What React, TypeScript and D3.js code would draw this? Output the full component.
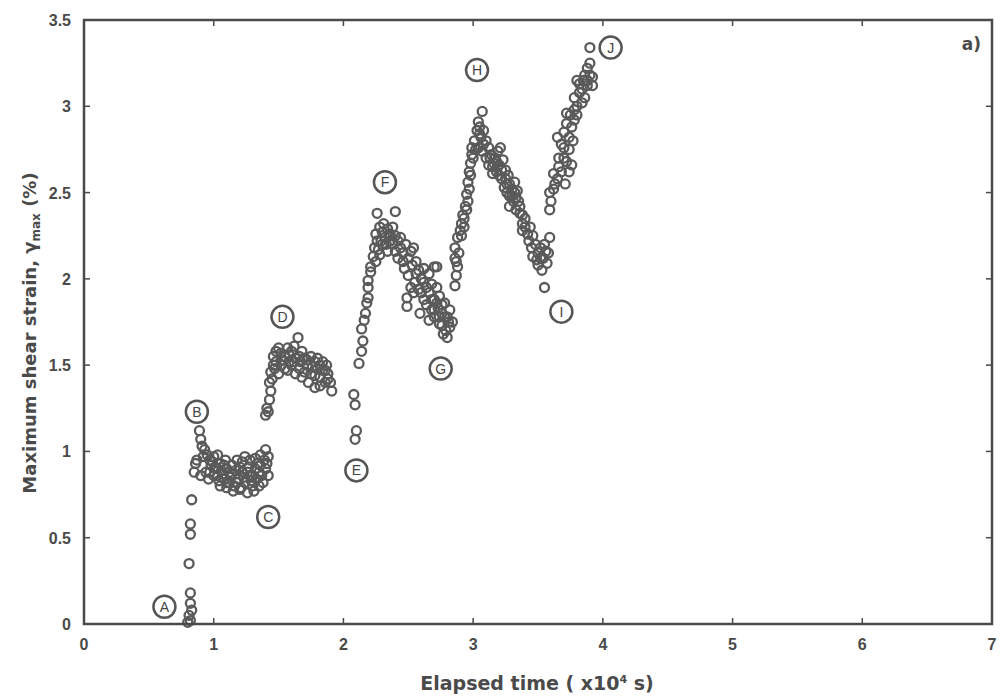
import React from 'react';
import * as d3 from 'd3';

type Pt = [number, number];

// elapsed time (x10^4 s), maximum shear strain (%)
const riseAB: Pt[] = [
  [0.80, 0.01], [0.82, 0.02], [0.81, 0.05], [0.83, 0.08], [0.82, 0.12],
  [0.82, 0.18], [0.81, 0.35], [0.82, 0.52], [0.82, 0.58], [0.83, 0.72],
];

const clusterBC: Pt[] = [
  [0.85, 0.88], [0.86, 0.93], [0.87, 0.95], [0.89, 1.12], [0.90, 1.07], [0.91, 1.03],
  [0.93, 1.01], [0.92, 0.97], [0.95, 0.98], [0.97, 0.95], [1.00, 0.97], [1.03, 0.98],
  [0.98, 0.92], [1.02, 0.90], [1.05, 0.93], [1.08, 0.92], [1.10, 0.90], [1.14, 0.92],
  [1.18, 0.95], [1.22, 0.94], [1.24, 0.97], [1.28, 0.95], [1.32, 0.96], [1.36, 0.98],
  [1.40, 1.01], [1.42, 0.97], [0.90, 0.86], [0.94, 0.88], [0.96, 0.84], [1.00, 0.86],
  [1.04, 0.83], [1.07, 0.87], [1.10, 0.82], [1.13, 0.85], [1.16, 0.80], [1.19, 0.84],
  [1.21, 0.79], [1.24, 0.82], [1.26, 0.76], [1.28, 0.86], [1.30, 0.80], [1.33, 0.84],
  [1.35, 0.88], [1.38, 0.82], [1.40, 0.90], [1.42, 0.86], [1.39, 0.95], [1.36, 0.92],
  [1.32, 0.90], [1.27, 0.91], [1.22, 0.88], [1.17, 0.89], [1.12, 0.88], [1.06, 0.89],
  [1.01, 0.91], [1.15, 0.77], [1.20, 0.78], [1.10, 0.79], [1.05, 0.80], [1.35, 0.80],
  [1.31, 0.77], [0.97, 0.88], [1.03, 0.86], [1.08, 0.84], [1.12, 0.82], [1.18, 0.82],
  [1.23, 0.85], [1.26, 0.88], [1.30, 0.86], [1.34, 0.93], [1.37, 0.86], [1.14, 0.87],
  [1.20, 0.91], [1.09, 0.95], [0.99, 0.94], [1.29, 0.83], [1.41, 0.93],
];

const clusterCD: Pt[] = [
  [1.40, 1.21], [1.41, 1.25], [1.42, 1.23], [1.43, 1.30], [1.44, 1.35], [1.43, 1.40],
  [1.45, 1.42], [1.44, 1.46], [1.46, 1.50], [1.47, 1.48], [1.46, 1.55], [1.48, 1.58],
  [1.50, 1.60], [1.52, 1.57], [1.55, 1.55], [1.57, 1.60], [1.60, 1.58], [1.62, 1.61],
  [1.65, 1.66], [1.58, 1.52], [1.52, 1.50], [1.50, 1.45], [1.55, 1.48], [1.60, 1.50],
  [1.63, 1.54], [1.66, 1.55], [1.68, 1.58], [1.70, 1.54], [1.72, 1.50], [1.75, 1.55],
  [1.78, 1.52], [1.80, 1.54], [1.82, 1.50], [1.84, 1.52], [1.86, 1.47], [1.88, 1.45],
  [1.90, 1.40], [1.91, 1.35], [1.86, 1.40], [1.82, 1.43], [1.78, 1.37], [1.75, 1.45],
  [1.70, 1.46], [1.66, 1.48], [1.63, 1.45], [1.80, 1.48], [1.87, 1.50], [1.73, 1.40],
  [1.68, 1.43], [1.48, 1.52], [1.53, 1.53], [1.58, 1.56], [1.62, 1.52], [1.67, 1.52],
  [1.72, 1.53], [1.76, 1.49], [1.84, 1.47], [1.57, 1.47], [1.78, 1.44], [1.82, 1.38],
  [1.88, 1.42],
];

const dropE: Pt[] = [
  [2.08, 1.33], [2.09, 1.27], [2.10, 1.12], [2.09, 1.07],
];

const riseEF: Pt[] = [
  [2.12, 1.51], [2.14, 1.58], [2.15, 1.64], [2.14, 1.71], [2.16, 1.76], [2.17, 1.80],
  [2.18, 1.86], [2.19, 1.89], [2.19, 1.95], [2.19, 1.99], [2.21, 2.04], [2.21, 2.07],
  [2.23, 2.13], [2.25, 2.10], [2.27, 2.17], [2.26, 2.22], [2.25, 2.26], [2.26, 2.38],
  [2.28, 2.30], [2.30, 2.27], [2.32, 2.24], [2.30, 2.20], [2.34, 2.29], [2.36, 2.26],
  [2.38, 2.30], [2.40, 2.39], [2.40, 2.25], [2.38, 2.20], [2.42, 2.22], [2.44, 2.18],
  [2.34, 2.16], [2.28, 2.14], [2.24, 2.18], [2.29, 2.22], [2.33, 2.20], [2.36, 2.22],
  [2.40, 2.16], [2.42, 2.12], [2.31, 2.32], [2.35, 2.25],
];

const fallFG: Pt[] = [
  [2.46, 2.15], [2.48, 2.20], [2.50, 2.12], [2.52, 2.16], [2.54, 2.18], [2.47, 2.06],
  [2.50, 2.02], [2.53, 2.08], [2.56, 2.10], [2.58, 2.05], [2.60, 2.00], [2.55, 1.98],
  [2.52, 1.95], [2.49, 1.89], [2.49, 1.84], [2.54, 1.92], [2.58, 1.94], [2.62, 1.98],
  [2.66, 2.03], [2.70, 2.07], [2.72, 2.07], [2.59, 1.80], [2.62, 1.88], [2.64, 1.85],
  [2.66, 1.92], [2.68, 1.82], [2.70, 1.88], [2.72, 1.95], [2.74, 1.90], [2.66, 1.76],
  [2.70, 1.78], [2.73, 1.83], [2.76, 1.80], [2.78, 1.86], [2.80, 1.78], [2.82, 1.82],
  [2.76, 1.73], [2.79, 1.70], [2.82, 1.72], [2.84, 1.75], [2.80, 1.66], [2.77, 1.68],
  [2.74, 1.74], [2.56, 2.03], [2.60, 1.92], [2.64, 1.95], [2.68, 1.97], [2.68, 1.88],
  [2.72, 1.86], [2.76, 1.85], [2.78, 1.78], [2.81, 1.75], [2.74, 1.78], [2.70, 1.82],
  [2.62, 2.06], [2.46, 2.10], [2.44, 2.24],
];

const riseGH: Pt[] = [
  [2.86, 1.96], [2.87, 2.02], [2.88, 2.07], [2.86, 2.12], [2.86, 2.18], [2.88, 2.24],
  [2.90, 2.28], [2.91, 2.32], [2.92, 2.37], [2.94, 2.42], [2.95, 2.49], [2.96, 2.56],
  [2.97, 2.62], [2.98, 2.67], [2.99, 2.72], [2.99, 2.76], [3.01, 2.80], [3.03, 2.86],
  [3.04, 2.91], [3.07, 2.97], [2.89, 2.15], [2.93, 2.35], [2.96, 2.45], [2.87, 2.10],
  [2.91, 2.25], [2.93, 2.30], [2.95, 2.40], [2.97, 2.52], [2.98, 2.60], [3.00, 2.70],
  [3.02, 2.75], [3.05, 2.84],
];

const fallHI: Pt[] = [
  [3.05, 2.88], [3.06, 2.82], [3.08, 2.86], [3.10, 2.80], [3.04, 2.76], [3.07, 2.74],
  [3.10, 2.70], [3.12, 2.76], [3.14, 2.72], [3.15, 2.65], [3.17, 2.70], [3.19, 2.74],
  [3.21, 2.76], [3.23, 2.69], [3.15, 2.61], [3.18, 2.62], [3.20, 2.60], [3.22, 2.63],
  [3.25, 2.58], [3.27, 2.60], [3.24, 2.53], [3.28, 2.55], [3.30, 2.52], [3.32, 2.56],
  [3.34, 2.51], [3.28, 2.48], [3.31, 2.45], [3.28, 2.42], [3.33, 2.40], [3.35, 2.45],
  [3.36, 2.42], [3.38, 2.37], [3.38, 2.32], [3.40, 2.35], [3.38, 2.28], [3.42, 2.26],
  [3.44, 2.30], [3.46, 2.25], [3.48, 2.20], [3.45, 2.18], [3.46, 2.13], [3.50, 2.15],
  [3.52, 2.18], [3.54, 2.12], [3.57, 2.09], [3.55, 2.20], [3.59, 2.24], [3.58, 2.15],
  [3.50, 2.08], [3.53, 2.05], [3.55, 1.95], [3.12, 2.66], [3.20, 2.66], [3.26, 2.50],
  [3.08, 2.78], [3.13, 2.70], [3.16, 2.67], [3.22, 2.58], [3.26, 2.55], [3.30, 2.48],
  [3.33, 2.47], [3.36, 2.38], [3.40, 2.30], [3.43, 2.22], [3.49, 2.11], [3.52, 2.12],
  [3.56, 2.16], [3.18, 2.68], [3.25, 2.63], [3.32, 2.50],
];

const riseIJ: Pt[] = [
  [3.59, 2.40], [3.59, 2.50], [3.60, 2.45], [3.62, 2.61], [3.63, 2.55], [3.65, 2.58],
  [3.66, 2.65], [3.68, 2.62], [3.70, 2.70], [3.71, 2.55], [3.72, 2.68], [3.74, 2.62],
  [3.76, 2.66], [3.74, 2.75], [3.65, 2.82], [3.68, 2.78], [3.70, 2.85], [3.72, 2.90],
  [3.74, 2.82], [3.76, 2.88], [3.72, 2.96], [3.75, 2.95], [3.78, 2.98], [3.78, 3.05],
  [3.80, 3.00], [3.82, 3.08], [3.80, 3.15], [3.84, 3.10], [3.85, 3.15], [3.86, 3.05],
  [3.88, 3.22], [3.90, 3.18], [3.92, 3.17], [3.92, 3.12], [3.90, 3.25], [3.88, 3.12],
  [3.90, 3.34], [3.82, 3.13], [3.86, 3.18], [3.88, 3.15], [3.84, 3.02], [3.80, 2.95],
  [3.78, 2.92], [3.77, 2.80], [3.70, 2.76], [3.66, 2.70], [3.62, 2.52],
];

// stage markers A..J (letter, time, strain)
const stageLetters = ['A', 'B', 'C', 'D', 'E', 'F', 'G', 'H', 'I', 'J'];
const stageTimes = [0.62, 0.87, 1.42, 1.53, 2.10, 2.32, 2.75, 3.03, 3.68, 4.06];
const stageStrains = [0.10, 1.23, 0.62, 1.78, 0.89, 2.56, 1.48, 3.21, 1.81, 3.34];

const xTicks = [0, 1, 2, 3, 4, 5, 6, 7];
const yTicks = [0, 0.5, 1, 1.5, 2, 2.5, 3, 3.5];

const W = 1002;
const H = 699;
const margin = { top: 20, right: 10, bottom: 75, left: 84 };
const ink = '#4a4a4a';

export default function App() {
  const x = d3.scaleLinear().domain([0, 7]).range([margin.left, W - margin.right]);
  const y = d3.scaleLinear().domain([0, 3.5]).range([H - margin.bottom, margin.top]);

  const points = [
    ...riseAB, ...clusterBC, ...clusterCD, ...dropE, ...riseEF,
    ...fallFG, ...riseGH, ...fallHI, ...riseIJ,
  ];

  const x0 = x(0), x1 = x(7), y0 = y(0), y1 = y(3.5);
  const tick = 6;

  return (
    <div style={{ position: 'absolute', left: 0, top: 0 }}>
      <svg width={W} height={H} style={{ display: 'block', background: '#fff' }}>
        {/* data */}
        <g fill="none" stroke="#5a5a5a" strokeWidth={2.3}>
          {points.map((d, i) => (
            <circle key={i} cx={x(d[0])} cy={y(d[1])} r={4.5} />
          ))}
        </g>

        {/* stage labels */}
        <g>
          {stageLetters.map((s, i) => (
            <g key={s} transform={`translate(${x(stageTimes[i])},${y(stageStrains[i])})`}>
              <circle r={11} fill="#fff" stroke="#555" strokeWidth={2.5} />
              <text
                y={5}
                textAnchor="middle"
                fontFamily="Liberation Sans, Arial, sans-serif"
                fontSize={14}
                fill="#444"
              >
                {s}
              </text>
            </g>
          ))}
        </g>

        {/* frame */}
        <rect x={x0} y={y1} width={x1 - x0} height={y0 - y1} fill="none" stroke={ink} strokeWidth={2.5} />

        {/* ticks */}
        <g stroke={ink} strokeWidth={1.5}>
          {xTicks.slice(1, -1).map(t => (
            <g key={t}>
              <line x1={x(t)} x2={x(t)} y1={y0} y2={y0 - tick} />
              <line x1={x(t)} x2={x(t)} y1={y1} y2={y1 + tick} />
            </g>
          ))}
          {yTicks.slice(1, -1).map(t => (
            <g key={t}>
              <line x1={x0} x2={x0 + tick} y1={y(t)} y2={y(t)} />
              <line x1={x1} x2={x1 - tick} y1={y(t)} y2={y(t)} />
            </g>
          ))}
        </g>

        {/* tick labels */}
        <g fontFamily="Liberation Sans, Arial, sans-serif" fontWeight="bold" fontSize={16} fill={ink}>
          {xTicks.map(t => (
            <text key={t} x={x(t)} y={y0 + 26} textAnchor="middle">{t}</text>
          ))}
          {yTicks.map(t => (
            <text key={t} x={x0 - 13} y={y(t) + 6} textAnchor="end">{t}</text>
          ))}
        </g>

        {/* axis titles */}
        <g fontFamily="DejaVu Sans, Verdana, sans-serif" fontWeight="bold" fill={ink}>
          <text x={537} y={690} textAnchor="middle" fontSize={19}>
            Elapsed time ( x10<tspan dy={-7} fontSize={11}>4</tspan>
            <tspan dy={7}> s)</tspan>
          </text>
          <text transform="translate(36,333) rotate(-90)" textAnchor="middle" fontSize={18}>
            Maximum shear strain, γ<tspan dy={4} fontSize={12}>max</tspan>
            <tspan dy={-4}> (%)</tspan>
          </text>
          <text x={981} y={50} textAnchor="end" fontSize={17}>a)</text>
        </g>
      </svg>
    </div>
  );
}
